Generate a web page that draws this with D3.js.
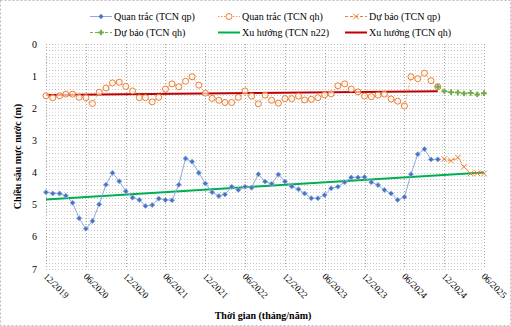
<!DOCTYPE html>
<html><head><meta charset="utf-8">
<script src="https://cdn.jsdelivr.net/npm/d3@7/dist/d3.min.js"></script>
<style>
html,body{margin:0;padding:0;background:#fff;}
svg{display:block;font-family:"Liberation Serif","Times New Roman",serif;}
</style></head>
<body>
<svg id="chart" width="511" height="326"></svg>
<script>
// ---- Data ----
const startMonth = "2019-12";          // first observation month
const forecastStart = "2024-11";       // forecast series start (last observed month)
const tickLabels = ["12/2019","06/2020","12/2020","06/2021","12/2021","06/2022","12/2022","06/2023","12/2023","06/2024","12/2024","06/2025"];
const yTicks = [0,1,2,3,4,5,6,7];

const obsQp = [4.61,4.65,4.65,4.72,4.94,5.42,5.75,5.51,4.99,4.38,
               4.01,4.27,4.58,4.78,4.85,5.04,5.01,4.81,4.85,4.86,
               4.38,3.56,3.66,4.01,4.34,4.61,4.73,4.68,4.44,4.54,
               4.44,4.47,4.05,4.28,4.35,4.06,4.28,4.43,4.52,4.65,
               4.80,4.80,4.70,4.49,4.44,4.30,4.15,4.15,4.14,4.30,
               4.39,4.54,4.65,4.85,4.76,4.05,3.43,3.27,3.59,3.59];
const obsQh = [1.61,1.67,1.61,1.56,1.56,1.66,1.67,1.85,1.50,1.37,
               1.21,1.19,1.32,1.46,1.67,1.67,1.80,1.66,1.40,1.24,
               1.33,1.16,1.02,1.28,1.53,1.69,1.75,1.82,1.82,1.66,
               1.46,1.62,1.86,1.59,1.75,1.84,1.70,1.70,1.62,1.74,
               1.72,1.67,1.58,1.55,1.30,1.24,1.40,1.49,1.62,1.64,
               1.59,1.56,1.71,1.78,1.93,1.02,1.08,0.91,1.14,1.33];
const fcQp = [3.59,3.58,3.63,3.53,3.82,4.03,4.02,4.03];
const fcQh = [1.33,1.47,1.50,1.51,1.54,1.52,1.57,1.53];
const trendN22Months = ["2019-12","2025-06"];
const trendN22 = [4.84,4.00];
const trendQhMonths = ["2019-12","2024-11"];
const trendQh = [1.59,1.47];

const legendLabels = ["Quan trắc (TCN qp)","Quan trắc (TCN qh)","Dự báo (TCN qp)","Dự báo (TCN qh)","Xu hướng (TCN n22)","Xu hướng (TCN qh)"];

// ---- Setup ----
const parseM = d3.timeParse("%Y-%m");
const parseT = d3.timeParse("%m/%Y");
const svg = d3.select("#chart");
const W = 511, H = 326;
const m = {left:46, right:27, top:44, bottom:57};
const x = d3.scaleTime().domain([parseT(tickLabels[0]), parseT(tickLabels[tickLabels.length-1])]).range([m.left, W-m.right]);
const y = d3.scaleLinear().domain([0,7]).range([m.top, H-m.bottom]);

const monthsFrom = (s, n) => d3.range(n).map(i => d3.timeMonth.offset(parseM(s), i));
const obsDates = monthsFrom(startMonth, obsQp.length);
const fcDates = monthsFrom(forecastStart, fcQp.length);

const FONT = 10;
const C = {blue:"#4472C4", blueL:"#8FAADC", orange:"#ED7D31", green:"#70AD47", trendG:"#00B050", trendR:"#C00000", grid:"#c4c4c4"};

// outer border
svg.append("rect").attr("x",0.5).attr("y",0.5).attr("width",W-1).attr("height",H-1)
  .attr("fill","none").attr("stroke","#bdbdbd").attr("stroke-dasharray","2,2");

// grid
const g = svg.append("g");
const x0 = x.range()[0], x1 = x.range()[1];
g.selectAll("line.h").data(d3.range(0, 71, 1).map(v=>v/10)).join("line")
  .attr("x1",x0).attr("x2",x1).attr("y1",d=>Math.round(y(d))+0.5).attr("y2",d=>Math.round(y(d))+0.5)
  .attr("stroke",C.grid).attr("stroke-width",1).attr("stroke-dasharray","1,2")
  .attr("stroke-opacity",d=>(Math.round(d*10)%2===0)?1:0.55);
g.selectAll("line.v").data(tickLabels.map(parseT)).join("line")
  .attr("x1",d=>Math.round(x(d))+0.5).attr("x2",d=>Math.round(x(d))+0.5).attr("y1",y(0)).attr("y2",y(7))
  .attr("stroke","#a6a6a6").attr("stroke-width",1).attr("stroke-dasharray","1,2");

// y axis labels
svg.append("g").selectAll("text").data(yTicks).join("text")
  .attr("x",37).attr("y",d=>y(d)).attr("dy","0.35em").attr("text-anchor","end")
  .attr("font-size",FONT).attr("fill","#000").text(d=>d);

// x axis labels (rotated)
svg.append("g").selectAll("text").data(tickLabels).join("text")
  .attr("transform",d=>`translate(${x(parseT(d))-3},${y(7)+8}) rotate(45)`)
  .attr("font-size",FONT-0.5).attr("fill","#000").text(d=>d);

// axis titles
svg.append("text").attr("x",263).attr("y",319).attr("text-anchor","middle")
  .attr("font-size",FONT).attr("font-weight","bold").text("Thời gian (tháng/năm)");
svg.append("text").attr("transform",`translate(21,${(y(0)+y(7))/2}) rotate(-90)`).attr("text-anchor","middle")
  .attr("font-size",FONT).attr("font-weight","bold").text("Chiều sâu mực nước (m)");

// lines
const line = d3.line().x(d=>x(d[0])).y(d=>y(d[1]));
const zip = (a,b)=>a.map((d,i)=>[d,b[i]]);
const plot = svg.append("g");

// trends
plot.append("path").attr("d",line(zip(trendN22Months.map(parseM),trendN22)))
  .attr("fill","none").attr("stroke",C.trendG).attr("stroke-width",2);
plot.append("path").attr("d",line(zip(trendQhMonths.map(parseM),trendQh)))
  .attr("fill","none").attr("stroke",C.trendR).attr("stroke-width",2);

// observed qh
plot.append("path").attr("d",line(zip(obsDates,obsQh)))
  .attr("fill","none").attr("stroke",C.orange).attr("stroke-width",0.8).attr("stroke-dasharray","1.5,1.5");
// observed qp
plot.append("path").attr("d",line(zip(obsDates,obsQp)))
  .attr("fill","none").attr("stroke",C.blueL).attr("stroke-width",1);
// forecast lines
plot.append("path").attr("d",line(zip(fcDates,fcQp)))
  .attr("fill","none").attr("stroke",C.orange).attr("stroke-width",1).attr("stroke-dasharray","3,2");
plot.append("path").attr("d",line(zip(fcDates,fcQh)))
  .attr("fill","none").attr("stroke",C.green).attr("stroke-width",1).attr("stroke-dasharray","3,2");

const diamond = d3.symbol().type(d3.symbolSquare).size(13);
const cross = d3.symbol().type(d3.symbolX).size(22);
const plusSym = d3.symbol().type(d3.symbolCross).size(18);

plot.append("g").selectAll("circle").data(zip(obsDates,obsQh)).join("circle")
  .attr("cx",d=>x(d[0])).attr("cy",d=>y(d[1])).attr("r",3)
  .attr("fill","#fff").attr("fill-opacity",0.6).attr("stroke",C.orange).attr("stroke-width",1);
plot.append("g").selectAll("path").data(zip(obsDates,obsQp)).join("path")
  .attr("d",diamond).attr("transform",d=>`translate(${x(d[0])},${y(d[1])}) rotate(45)`)
  .attr("fill",C.blue).attr("stroke",C.blueL).attr("stroke-width",0.8);
plot.append("g").selectAll("path").data(zip(fcDates,fcQp).slice(1)).join("path")
  .attr("d",cross).attr("transform",d=>`translate(${x(d[0])},${y(d[1])})`)
  .attr("fill","none").attr("stroke",C.orange).attr("stroke-width",1);
plot.append("g").selectAll("path").data(zip(fcDates,fcQh)).join("path")
  .attr("d",plusSym).attr("transform",d=>`translate(${x(d[0])},${y(d[1])})`)
  .attr("fill",C.green).attr("stroke","none");

// legend
const legend = svg.append("g");
const cols = [90, 218, 345];
const rows = [16.5, 32.5];
const types = ["qp","qh","fqp","fqh","tg","tr"];
types.forEach((t,i)=>{
  const cx = cols[i%3], cy = rows[Math.floor(i/3)];
  const gg = legend.append("g").attr("transform",`translate(${cx},${cy})`);
  const L = 22;
  if(t==="qp"){
    gg.append("line").attr("x1",0).attr("x2",L).attr("stroke",C.blueL).attr("stroke-width",1);
    gg.append("path").attr("d",diamond).attr("transform",`translate(${L/2},0) rotate(45)`).attr("fill",C.blue).attr("stroke",C.blueL).attr("stroke-width",0.8);
  } else if(t==="qh"){
    gg.append("line").attr("x1",0).attr("x2",L).attr("stroke",C.orange).attr("stroke-width",0.8).attr("stroke-dasharray","1.5,1.5");
    gg.append("circle").attr("cx",L/2).attr("r",3).attr("fill","#fff").attr("stroke",C.orange);
  } else if(t==="fqp"){
    gg.append("line").attr("x1",0).attr("x2",L).attr("stroke",C.orange).attr("stroke-width",1).attr("stroke-dasharray","3,2");
    gg.append("path").attr("d",cross).attr("transform",`translate(${L/2},0)`).attr("fill","none").attr("stroke",C.orange);
  } else if(t==="fqh"){
    gg.append("line").attr("x1",0).attr("x2",L).attr("stroke",C.green).attr("stroke-width",1).attr("stroke-dasharray","3,2");
    gg.append("path").attr("d",plusSym).attr("transform",`translate(${L/2},0)`).attr("fill",C.green);
  } else if(t==="tg"){
    gg.append("line").attr("x1",0).attr("x2",L).attr("stroke",C.trendG).attr("stroke-width",2);
  } else {
    gg.append("line").attr("x1",0).attr("x2",L).attr("stroke",C.trendR).attr("stroke-width",2);
  }
  gg.append("text").attr("x",L+2).attr("dy","0.35em").attr("font-size",FONT).attr("fill","#000").text(legendLabels[i]);
});
</script>
</body></html>
